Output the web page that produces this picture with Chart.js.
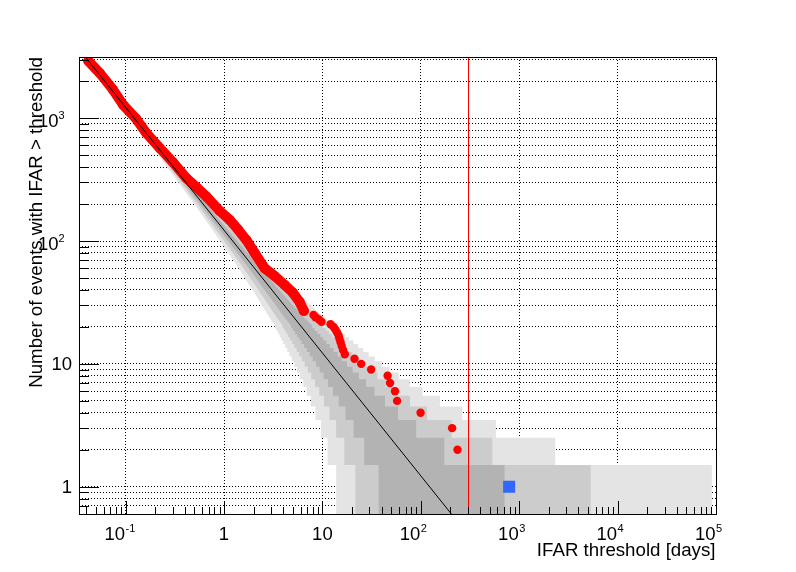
<!DOCTYPE html>
<html>
<head>
<meta charset="utf-8">
<title>IFAR threshold</title>
<script src="https://cdn.jsdelivr.net/npm/chart.js@4.4.1/dist/chart.umd.min.js"></script>
<style>
  html, body { margin: 0; padding: 0; background: #fff; }
  #wrap { width: 796px; height: 572px; }
</style>
</head>
<body>
<div id="wrap"><canvas id="ifarChart" width="796" height="572"></canvas></div>
<script>
// expected background: N = const / IFAR
var lineX = [0.04, 250];
var lineN = [3068, 0.491];

// observed events, dense part (markers overlap into a band)
var denseX = [0.0418, 0.0548, 0.0748, 0.0946, 0.127, 0.163, 0.223, 0.304, 0.416, 0.525, 0.664,
              0.904, 1.14, 1.39, 1.69, 2.05, 2.59, 3.27, 4.13, 5.01, 5.86, 6.48];
var denseN = [2924, 2323, 1699, 1282, 996, 755, 570, 437, 325, 274, 230,
              176, 149, 124, 102, 80, 60, 52, 44, 38, 32, 27];

// observed events, loudest ones
var eventX = [8.12, 8.51, 9.24, 9.79, 12.1, 13.0, 13.6, 14.1, 14.6, 14.9, 15.3, 15.7,
              16.2, 16.9, 21.2, 24.8, 31.3, 46.0, 48.7, 54.7, 57.4, 99.5, 208, 236];
var eventN = [25, 24, 23, 22, 21, 20, 19, 18, 17, 16, 15, 14,
              13, 12, 11, 10, 9, 8, 7, 6, 5, 4, 3, 2];

// highlighted loudest event
var loudX = [790];
var loudN = [1];

var thresholdX = 298;

// background bands: for each count level, left / right edge in days
var bandN = [1, 2, 3, 4, 5, 6, 7, 8, 9, 10, 11, 12, 13, 14, 15, 16, 17, 18, 19, 20,
             25, 30, 40, 50, 70, 100, 150, 200, 300, 500, 1000, 2000, 3500];
var lo3 = [13.8, 11.29, 9.65, 8.50, 7.63, 6.94, 6.39, 5.92, 5.52, 5.18, 4.88, 4.62, 4.39, 4.18, 3.99, 3.82, 3.67, 3.53, 3.40, 3.27,
           2.79, 2.43, 1.95, 1.63, 1.240, 0.916, 0.644, 0.498, 0.345, 0.215, 0.1117, 0.0574, 0.0333];
var lo2 = [21.6, 16.69, 13.79, 11.81, 10.38, 9.28, 8.41, 7.70, 7.10, 6.60, 6.17, 5.80, 5.47, 5.18, 4.92, 4.68, 4.47, 4.28, 4.10, 3.94,
           3.30, 2.85, 2.24, 1.85, 1.381, 1.005, 0.695, 0.533, 0.3644, 0.2244, 0.1152, 0.0587, 0.0339];
var lo1 = [37.3, 26.56, 20.73, 17.15, 14.65, 12.81, 11.40, 10.28, 9.37, 8.60, 7.96, 7.41, 6.94, 6.52, 6.15, 5.82, 5.53, 5.26, 5.02, 4.80,
           3.95, 3.36, 2.59, 2.11, 1.545, 1.105, 0.751, 0.570, 0.3855, 0.2344, 0.1188, 0.0600, 0.0345];
var hi1 = [710, 173.3, 89.76, 58.71, 43.20, 33.85, 27.74, 23.44, 20.24, 17.79, 15.85, 14.29, 12.99, 11.90, 10.98, 10.18, 9.50, 8.89, 8.36, 7.88,
           6.12, 5.00, 3.64, 2.86, 1.99, 1.363, 0.890, 0.660, 0.434, 0.2569, 0.1267, 0.0628, 0.0357];
var hi2 = [5333, 533.5, 205.5, 115.9, 77.66, 57.07, 44.62, 36.30, 30.39, 26.05, 22.72, 20.10, 17.99, 16.26, 14.81, 13.59, 12.54, 11.64, 10.85, 10.16,
           7.66, 6.11, 4.32, 3.33, 2.26, 1.515, 0.970, 0.710, 0.4606, 0.2689, 0.1308, 0.0642, 0.0363];
var hi3 = [90800, 2319, 579.3, 263.6, 156.5, 104.0, 77.17, 59.85, 48.31, 40.10, 34.08, 29.50, 25.89, 23.02, 20.66, 18.70, 17.04, 15.65, 14.44, 13.40,
           9.75, 7.59, 5.19, 3.91, 2.58, 1.689, 1.059, 0.766, 0.4894, 0.2817, 0.1352, 0.0657, 0.0369];
var stepRows = 20;

var xMin = 0.0336, xMax = 1e5;
var yMin = 0.607, yMax = 3150;

var xTickVals = [0.1, 1, 10, 100, 1000, 10000, 100000];
var xTickText = [['10', '-1'], ['1', ''], ['10', ''], ['10', '2'], ['10', '3'], ['10', '4'], ['10', '5']];
var yTickVals = [1, 10, 100, 1000];
var yTickText = [['1', ''], ['10', ''], ['10', '2'], ['10', '3']];

var xTitle = 'IFAR threshold [days]';
var yTitle = 'Number of events with IFAR > threshold';

var FONT = '"Liberation Sans", Arial, Helvetica, sans-serif';

function pts(xs, ys) {
  return xs.map(function (v, i) { return {x: v, y: ys[i]}; });
}

// closed staircase outline of one band
function bandShape(lo, hi) {
  var left = [], right = [];
  for (var i = 0; i < bandN.length; i++) {
    var n = bandN[i];
    if (n <= stepRows) {
      left.push({x: lo[i], y: n - 0.5}, {x: lo[i], y: n + 0.5});
      right.push({x: hi[i], y: n - 0.5}, {x: hi[i], y: n + 0.5});
    } else {
      left.push({x: lo[i], y: n});
      right.push({x: hi[i], y: n});
    }
  }
  return left.concat(right.reverse());
}

function isDecade(v) {
  var l = Math.log10(v);
  return Math.abs(l - Math.round(l)) < 1e-6;
}

function logTicks(min, max) {
  var out = [];
  for (var e = Math.floor(Math.log10(min)); e <= Math.ceil(Math.log10(max)); e++) {
    for (var m = 1; m <= 9; m++) {
      var v = m * Math.pow(10, e);
      if (v >= min * 0.999999 && v <= max * 1.000001) out.push(v);
    }
  }
  return out;
}

function setLogTicks(scale) {
  scale.ticks = logTicks(scale.min, scale.max).map(function (v) { return {value: v}; });
}

// threshold marker, snapped to a whole pixel column
var thresholdLine = {
  id: 'thresholdLine',
  afterDatasetsDraw: function (chart) {
    var ctx = chart.ctx, a = chart.chartArea;
    var px = Math.ceil(chart.scales.x.getPixelForValue(thresholdX)) + 0.5;
    ctx.save();
    ctx.strokeStyle = '#ff0000';
    ctx.lineWidth = 1;
    ctx.beginPath();
    ctx.moveTo(px, a.top);
    ctx.lineTo(px, a.bottom);
    ctx.stroke();
    ctx.restore();
  }
};

// ROOT-like frame, inward ticks, labels and titles
var rootAxes = {
  id: 'rootAxes',
  afterDraw: function (chart) {
    var ctx = chart.ctx, a = chart.chartArea;
    var sx = chart.scales.x, sy = chart.scales.y;
    ctx.save();
    ctx.strokeStyle = '#000';
    ctx.lineWidth = 1;
    ctx.beginPath();
    logTicks(xMin, xMax).forEach(function (v) {
      var px = Math.round(sx.getPixelForValue(v)) + 0.5;
      var len = isDecade(v) ? 13 : 7;
      ctx.moveTo(px, a.bottom);
      ctx.lineTo(px, a.bottom - len);
    });
    logTicks(yMin, yMax).forEach(function (v) {
      var py = Math.round(sy.getPixelForValue(v)) + 0.5;
      var len = isDecade(v) ? 20 : 10;
      ctx.moveTo(a.left, py);
      ctx.lineTo(a.left + len, py);
    });
    ctx.stroke();
    ctx.strokeRect(a.left + 0.5, a.top + 0.5, a.right - a.left, a.bottom - a.top);

    ctx.fillStyle = '#000';
    ctx.textBaseline = 'alphabetic';
    xTickVals.forEach(function (v, i) {
      var px = sx.getPixelForValue(v);
      var t = xTickText[i];
      if (t[1]) {
        ctx.font = '18.5px ' + FONT;
        ctx.textAlign = 'right';
        ctx.fillText(t[0], px - 0.5, 540);
        ctx.font = '11px ' + FONT;
        ctx.textAlign = 'left';
        ctx.fillText(t[1], px, 531.5);
      } else {
        ctx.font = '18.5px ' + FONT;
        ctx.textAlign = 'center';
        ctx.fillText(t[0], px, 540);
      }
    });
    yTickVals.forEach(function (v, i) {
      var py = sy.getPixelForValue(v);
      var t = yTickText[i];
      if (t[1]) {
        ctx.font = '18.5px ' + FONT;
        ctx.textAlign = 'right';
        ctx.fillText(t[0], 58.5, py + 8.5);
        ctx.font = '11px ' + FONT;
        ctx.textAlign = 'left';
        ctx.fillText(t[1], 58.5, py + 0.5);
      } else {
        ctx.font = '18.5px ' + FONT;
        ctx.textAlign = 'right';
        ctx.fillText(t[0], 72, py + 6);
      }
    });

    ctx.font = '18.7px ' + FONT;
    ctx.textAlign = 'right';
    ctx.fillText(xTitle, a.right - 0.5, 555.5);
    ctx.translate(41.5, a.top);
    ctx.rotate(-Math.PI / 2);
    ctx.fillText(yTitle, 0, 0);
    ctx.restore();
  }
};

new Chart(document.getElementById('ifarChart'), {
  type: 'line',
  data: {
    datasets: [
      {
        label: 'expected background',
        data: pts(lineX, lineN),
        borderColor: '#000000',
        borderWidth: 1,
        pointRadius: 0,
        clip: 0,
        order: 0
      },
      {
        label: 'loudest event',
        data: pts(loudX, loudN),
        showLine: false,
        pointStyle: 'rect',
        pointRadius: 8.5,
        backgroundColor: '#3366ff',
        pointBackgroundColor: '#3366ff',
        pointBorderWidth: 0,
        order: 0
      },
      {
        label: 'events',
        data: pts(eventX, eventN),
        showLine: false,
        pointRadius: 4.2,
        backgroundColor: '#ff0000',
        pointBackgroundColor: '#ff0000',
        pointBorderWidth: 0,
        order: 1
      },
      {
        label: 'events (dense)',
        data: pts(denseX, denseN),
        borderColor: '#ff0000',
        borderWidth: 10,
        borderCapStyle: 'round',
        borderJoinStyle: 'round',
        pointRadius: 5,
        backgroundColor: '#ff0000',
        pointBackgroundColor: '#ff0000',
        pointBorderWidth: 0,
        order: 1
      },
      {
        label: '1 sigma',
        data: bandShape(lo1, hi1),
        borderWidth: 0,
        pointRadius: 0,
        backgroundColor: '#b3b3b3',
        fill: 'shape',
        clip: 0,
        order: 3
      },
      {
        label: '2 sigma',
        data: bandShape(lo2, hi2),
        borderWidth: 0,
        pointRadius: 0,
        backgroundColor: '#cccccc',
        fill: 'shape',
        clip: 0,
        order: 4
      },
      {
        label: '3 sigma',
        data: bandShape(lo3, hi3),
        borderWidth: 0,
        pointRadius: 0,
        backgroundColor: '#e4e4e4',
        fill: 'shape',
        clip: 0,
        order: 5
      }
    ]
  },
  options: {
    responsive: false,
    animation: false,
    events: [],
    layout: { padding: { left: 79, top: 57, right: 80, bottom: 58 } },
    plugins: { legend: { display: false }, tooltip: { enabled: false } },
    scales: {
      x: {
        type: 'logarithmic',
        min: xMin,
        max: xMax,
        afterBuildTicks: setLogTicks,
        ticks: { display: false },
        grid: {
          drawTicks: false,
          lineWidth: 1,
          color: function (c) { return c.tick && isDecade(c.tick.value) ? '#000000' : 'rgba(0,0,0,0)'; }
        },
        border: { display: false, dash: [1, 2] }
      },
      y: {
        type: 'logarithmic',
        min: yMin,
        max: yMax,
        afterBuildTicks: setLogTicks,
        ticks: { display: false },
        grid: { drawTicks: false, lineWidth: 1, color: '#000000' },
        border: { display: false, dash: [1, 2] }
      }
    }
  },
  plugins: [thresholdLine, rootAxes]
});
</script>
</body>
</html>
